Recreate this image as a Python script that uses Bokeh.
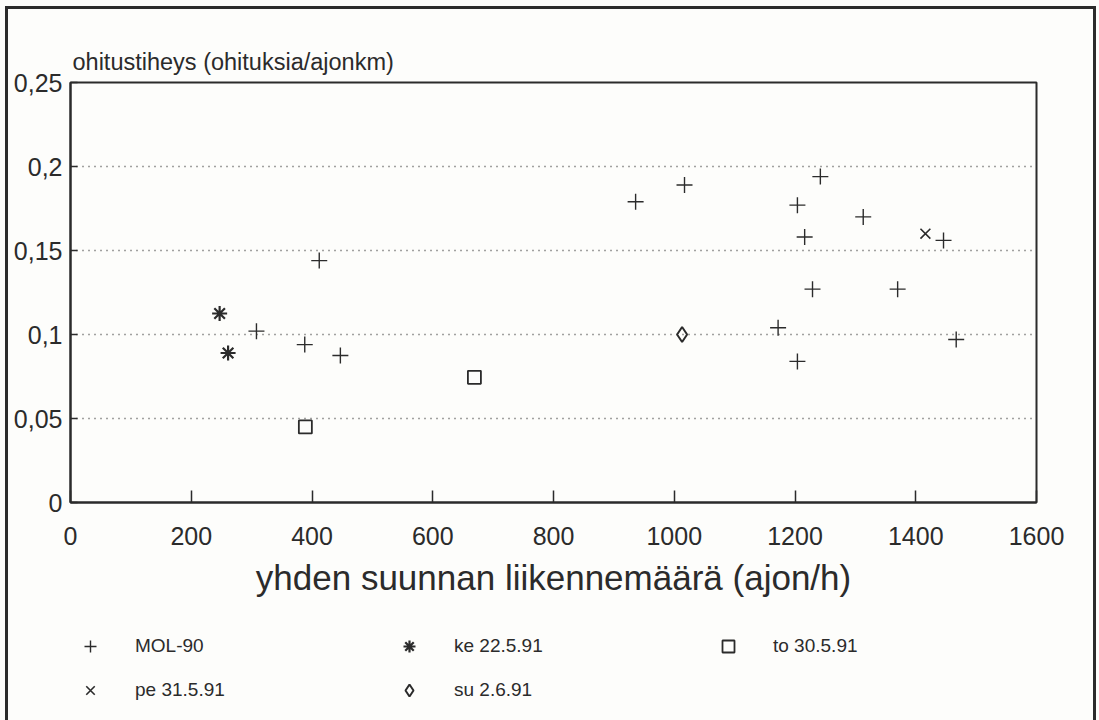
from bokeh.plotting import figure
from bokeh.layouts import column
from bokeh.models import (FixedTicker, CustomJSTickFormatter, Legend, LegendItem, Range1d)
from bokeh.embed import file_html
from bokeh.resources import INLINE

# Overtaking frequency vs. one-direction traffic volume
mol_x = [412, 308, 388, 447, 936, 1017, 1242, 1204, 1313, 1216, 1229, 1370, 1172, 1204, 1446, 1467]
mol_y = [0.144, 0.102, 0.094, 0.0875, 0.179, 0.189, 0.194, 0.177, 0.170, 0.158,
         0.127, 0.127, 0.104, 0.084, 0.156, 0.097]
ke_x = [247, 261]
ke_y = [0.1125, 0.089]
to_x = [389, 669]
to_y = [0.045, 0.0745]
pe_x = [1416]
pe_y = [0.160]
su_x = [1013]
su_y = [0.100]

series_labels = ["MOL-90", "ke 22.5.91", "to 30.5.91", "pe 31.5.91", "su 2.6.91"]
x_ticks = [0, 200, 400, 600, 800, 1000, 1200, 1400, 1600]
y_ticks = [0, 0.05, 0.1, 0.15, 0.2, 0.25]

INK = "#2b2b2b"
PAPER = "#fdfdfb"
FONT = "Liberation Sans"

# page frame lines (left, top, right) drawn as CSS background strips
frame_css = {
    "background-color": PAPER,
    "background-image": ", ".join([f"linear-gradient({INK}, {INK})"] * 3),
    "background-position": "5px 6px, 5px 6px, 1093px 6px",
    "background-size": "3px 100%, 1091px 3px, 3px 100%",
    "background-repeat": "no-repeat",
}

# marker styles per series
styles = [
    dict(marker="cross", size=16, line_color=INK, line_width=1.4),
    dict(marker="asterisk", size=15, line_color=INK, line_width=2.2),
    dict(marker="square", size=13, line_color=INK, fill_color=None, line_width=1.8),
    dict(marker="x", size=14, line_color=INK, line_width=1.6),
    dict(marker="diamond", size=15, line_color=INK, fill_color=None, line_width=2),
]

p = figure(width=1099, height=615, output_backend="svg", toolbar_location=None,
           x_range=Range1d(0, 1600), y_range=Range1d(0, 0.25),
           min_border_left=70, min_border_right=63, min_border_top=82,
           min_border_bottom=113, background_fill_color=PAPER,
           border_fill_alpha=0)

p.outline_line_color = INK
p.outline_line_width = 2

# the vertical axis title sits horizontally above the plot box
p.title.text = "ohitustiheys (ohituksia/ajonkm)"
p.title.text_font = FONT
p.title.text_font_size = "23.5px"
p.title.text_font_style = "normal"
p.title.text_color = INK
p.title.align = "left"
p.title.offset = 2
p.title.standoff = 15

# axes
for ax in (p.xaxis[0], p.yaxis[0]):
    ax.axis_line_color = INK
    ax.axis_line_width = 2
    ax.major_tick_line_color = INK
    ax.major_tick_line_width = 1.5
    ax.minor_tick_line_color = None
    ax.major_tick_out = 0
    ax.major_label_text_font = FONT
    ax.major_label_text_font_size = "25px"
    ax.major_label_text_color = INK

p.xaxis.ticker = FixedTicker(ticks=x_ticks)
p.xaxis.major_tick_in = 12
p.xaxis.major_label_standoff = 24
p.xaxis.axis_label = "yhden suunnan liikennemäärä (ajon/h)"
p.xaxis.axis_label_text_font = FONT
p.xaxis.axis_label_text_font_size = "35px"
p.xaxis.axis_label_text_font_style = "normal"
p.xaxis.axis_label_text_color = INK
p.xaxis.axis_label_standoff = 10

p.yaxis.ticker = FixedTicker(ticks=y_ticks)
p.yaxis.major_tick_in = 7
p.yaxis.major_label_standoff = 8
p.yaxis.formatter = CustomJSTickFormatter(
    code="return tick === 0 ? '0' : tick.toFixed(2).replace(/0$/, '').replace('.', ',');")

p.xgrid.visible = False
p.ygrid.ticker = FixedTicker(ticks=[0.05, 0.1, 0.15, 0.2])
p.ygrid.grid_line_color = "#444444"
p.ygrid.grid_line_width = 1.5
p.ygrid.grid_line_dash = "1 5"

series = [(mol_x, mol_y), (ke_x, ke_y), (to_x, to_y), (pe_x, pe_y), (su_x, su_y)]
for (xs, ys), st in zip(series, styles):
    p.scatter(xs, ys, **st)

# key strip under the chart; its renderers carry the same series but stay hidden,
# so only their legend swatches are drawn
k = figure(width=1099, height=105, output_backend="svg", toolbar_location=None,
           x_axis_type=None, y_axis_type=None, min_border=0,
           background_fill_alpha=0, border_fill_alpha=0)
k.outline_line_color = None
k.grid.visible = False
items = []
for label, (xs, ys), st in zip(series_labels, series, styles):
    r = k.scatter(xs, ys, visible=False, **st)
    items.append(LegendItem(label=label, renderers=[r]))

legend = Legend(items=items, orientation="horizontal", ncols=3, location=(5, 15),
                click_policy="none")
legend.label_text_font = FONT
legend.label_text_font_size = "19px"
legend.label_text_color = INK
legend.glyph_width = 30
legend.glyph_height = 30
legend.label_standoff = 30
legend.label_width = 245
legend.spacing = 14
legend.padding = 10
legend.margin = 0
legend.border_line_color = None
legend.background_fill_alpha = 0
legend.inactive_fill_alpha = 0
k.add_layout(legend)

page = column(p, k, styles=frame_css)
open("out.html", "w").write(file_html(page, INLINE))
